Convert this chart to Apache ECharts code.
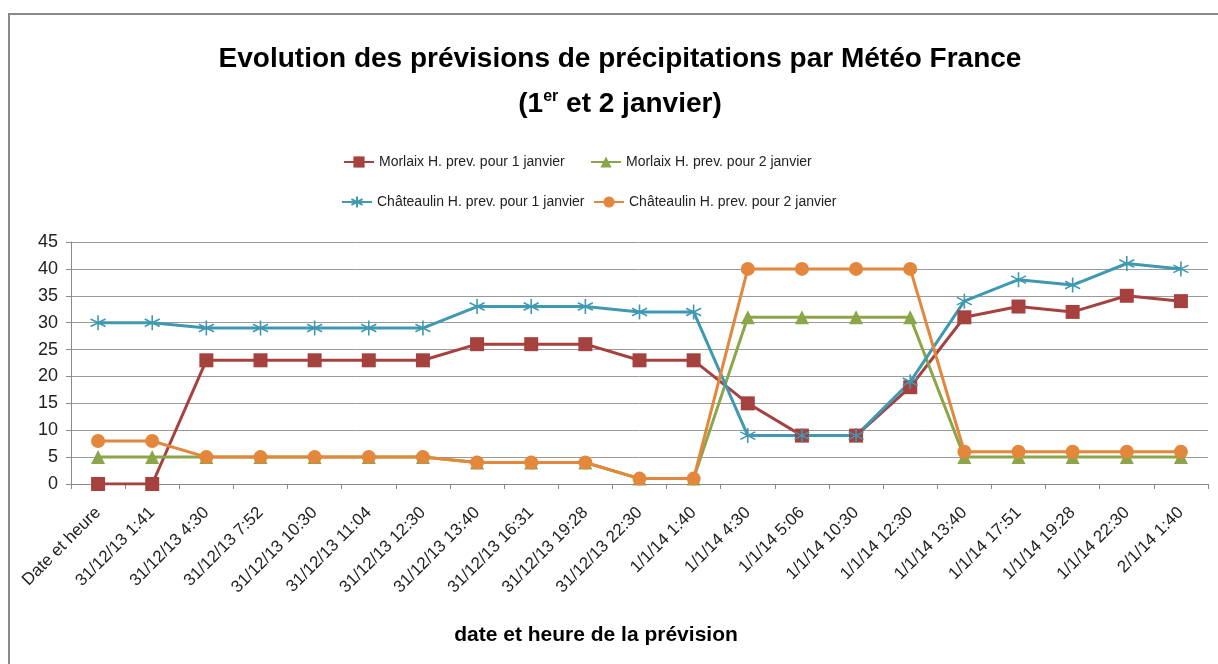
<!DOCTYPE html>
<html>
<head>
<meta charset="utf-8">
<script src="https://cdn.jsdelivr.net/npm/echarts@6/dist/echarts.min.js"></script>
<style>
  html, body { margin: 0; padding: 0; background: #fff; overflow: hidden; }
  #chart { width: 1218px; height: 664px; }
  .frame {
    position: absolute; left: 8px; top: 13px; width: 1230px; height: 700px;
    border-top: 2px solid #8a8a8a; border-left: 2px solid #8a8a8a; pointer-events: none;
  }
</style>
</head>
<body>
<div id="chart"></div>
<div class="frame"></div>
<script>
// catégories (date et heure de la prévision)
const categories = [
  'Date et heure', '31/12/13 1:41', '31/12/13 4:30', '31/12/13 7:52', '31/12/13 10:30',
  '31/12/13 11:04', '31/12/13 12:30', '31/12/13 13:40', '31/12/13 16:31', '31/12/13 19:28',
  '31/12/13 22:30', '1/1/14 1:40', '1/1/14 4:30', '1/1/14 5:06', '1/1/14 10:30',
  '1/1/14 12:30', '1/1/14 13:40', '1/1/14 17:51', '1/1/14 19:28', '1/1/14 22:30', '2/1/14 1:40'
];

const morlaix1 = [0, 0, 23, 23, 23, 23, 23, 26, 26, 26, 23, 23, 15, 9, 9, 18, 31, 33, 32, 35, 34];
const morlaix2 = [5, 5, 5, 5, 5, 5, 5, 4, 4, 4, 1, 1, 31, 31, 31, 31, 5, 5, 5, 5, 5];
const chateaulin1 = [30, 30, 29, 29, 29, 29, 29, 33, 33, 33, 32, 32, 9, 9, 9, 19, 34, 38, 37, 41, 40];
const chateaulin2 = [8, 8, 5, 5, 5, 5, 5, 4, 4, 4, 1, 1, 40, 40, 40, 40, 6, 6, 6, 6, 6];

const yTicks = { min: 0, max: 45, interval: 5 };

const names = [
  'Morlaix H. prev. pour 1 janvier',
  'Morlaix H. prev. pour 2 janvier',
  'Châteaulin H. prev. pour 1 janvier',
  'Châteaulin H. prev. pour 2 janvier'
];

const FONT = '"Liberation Sans", Arial, sans-serif';
const C_RED = '#A5413E', C_GREEN = '#8CA548', C_TEAL = '#3F99B1', C_ORANGE = '#E2873B';
const ASTERISK = 'path://M7,0 L7,14 M1,3.5 L13,10.5 M1,10.5 L13,3.5';

const chart = echarts.init(document.getElementById('chart'));

function legendAt(name, left, top) {
  return {
    data: [name], left, top,
    itemWidth: 30, itemHeight: 14, itemGap: 0,
    textStyle: { fontFamily: FONT, fontSize: 14, color: '#222' }
  };
}

chart.setOption({
  animation: false,
  backgroundColor: '#fff',
  title: [{
    text: 'Evolution des prévisions de précipitations par Météo France\n(1{sup|er} et 2 janvier)',
    left: 620, top: 37, textAlign: 'center', padding: 0,
    textStyle: {
      fontFamily: FONT, fontSize: 28, fontWeight: 'bold', color: '#000', lineHeight: 45,
      rich: { sup: { fontFamily: FONT, fontSize: 16, fontWeight: 'bold', color: '#000', verticalAlign: 'top', padding: [7, 0, 0, 0] } }
    }
  }],
  legend: [
    legendAt(names[0], 338, 150),
    legendAt(names[1], 585, 150),
    legendAt(names[2], 336, 190),
    legendAt(names[3], 588, 190)
  ],
  grid: { left: 71, right: 10, top: 242, bottom: 180, containLabel: false },
  xAxis: {
    type: 'category', data: categories, boundaryGap: true,
    axisLine: { lineStyle: { color: '#8a8a8a', width: 1 } },
    axisTick: { show: true, length: 5, lineStyle: { color: '#8a8a8a' } },
    axisLabel: { rotate: 45, interval: 0, margin: 26, fontFamily: FONT, fontSize: 17, color: '#222' },
    name: 'date et heure de la prévision', nameLocation: 'middle', nameGap: 141,
    nameTextStyle: { fontFamily: FONT, fontSize: 21, fontWeight: 'bold', color: '#000', padding: [0, 87, 0, 0] }
  },
  yAxis: {
    type: 'value', min: yTicks.min, max: yTicks.max, interval: yTicks.interval,
    axisLine: { show: true, lineStyle: { color: '#8a8a8a', width: 1 } },
    axisTick: { show: true, length: 5, lineStyle: { color: '#8a8a8a' } },
    axisLabel: { margin: 13, fontFamily: FONT, fontSize: 18, color: '#222' },
    splitLine: { lineStyle: { color: '#9a9a9a', width: 1 } }
  },
  series: [
    {
      name: names[0], type: 'line', data: morlaix1,
      symbol: 'rect', symbolSize: 14,
      itemStyle: { color: C_RED }, lineStyle: { color: C_RED, width: 3 }
    },
    {
      name: names[1], type: 'line', data: morlaix2,
      symbol: 'triangle', symbolSize: 14,
      itemStyle: { color: C_GREEN }, lineStyle: { color: C_GREEN, width: 3 }
    },
    {
      name: names[2], type: 'line', data: chateaulin1,
      symbol: ASTERISK, symbolSize: 15,
      itemStyle: { color: C_TEAL, borderColor: C_TEAL, borderWidth: 1.6 },
      lineStyle: { color: C_TEAL, width: 3 }
    },
    {
      name: names[3], type: 'line', data: chateaulin2,
      symbol: 'circle', symbolSize: 14,
      itemStyle: { color: C_ORANGE }, lineStyle: { color: C_ORANGE, width: 3 }
    }
  ]
});
</script>
</body>
</html>
